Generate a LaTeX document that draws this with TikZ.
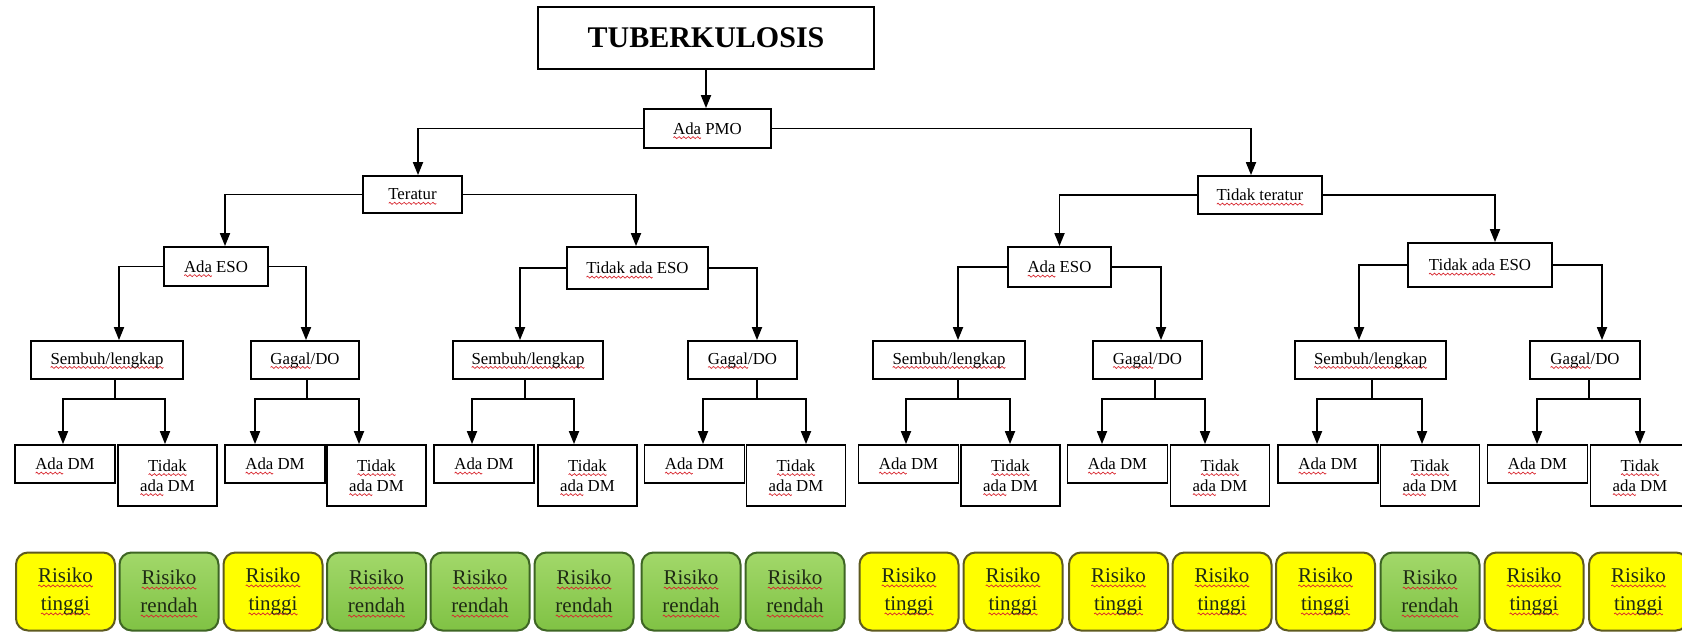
\documentclass[tikz,border=0pt]{standalone}
\usepackage{fontspec}
\setmainfont{Liberation Serif}
\usetikzlibrary{calc,arrows.meta}
\definecolor{spell}{HTML}{D8262E}
\definecolor{riskY}{HTML}{FFFF00}
\definecolor{riskYd}{HTML}{5E5A20}
\definecolor{riskG1}{HTML}{A2D86A}
\definecolor{riskG2}{HTML}{80C244}
\definecolor{riskGd}{HTML}{3E6524}
\definecolor{riskT}{HTML}{1E2A14}
% one period of the red wavy underline a spell checker draws
\newsavebox\wavebox
\newsavebox\wordbox
\sbox\wavebox{\begin{pgfpicture}
  \pgfpathrectanglecorners{\pgfpoint{0pt}{-0.6pt}}{\pgfpoint{2.2pt}{0.6pt}}%
  \pgfusepath{use as bounding box}%
  \pgfsetlinewidth{0.35pt}\pgfsetstrokecolor{spell}%
  \pgfpathmoveto{\pgfpoint{0pt}{0pt}}%
  \pgfpathsine{\pgfpoint{0.55pt}{0.5pt}}%
  \pgfpathcosine{\pgfpoint{0.55pt}{-0.5pt}}%
  \pgfpathsine{\pgfpoint{0.55pt}{-0.5pt}}%
  \pgfpathcosine{\pgfpoint{0.55pt}{0.5pt}}%
  \pgfusepath{stroke}%
\end{pgfpicture}}
% red wavy underline below a word
\newcommand\sq[1]{\sbox\wordbox{#1}%
  \rlap{\raisebox{-2.3pt}[0pt][0pt]{\hbox to\wd\wordbox{\xleaders\copy\wavebox\hfil}}}\usebox\wordbox}
% one parent splitting into two children below it
\newcommand\fork[6]{%
  \draw[ln] ($(#1.south)+(#2,0)$) -- ++(0,19) coordinate (#1j);
  \draw[arr] (#1j) -| ($(#3.north)+(#4,0)$);
  \draw[arr] (#1j) -| ($(#5.north)+(#6,0)$);
}
\begin{document}
\begin{tikzpicture}[x=0.5pt,y=-0.5pt,
  wh/.style 2 args={minimum width=#1*0.5pt, minimum height=#2*0.5pt},
  box/.style={draw, line width=0.9pt, inner sep=0pt, align=center,
    font=\fontsize{8.4}{10}\selectfont},
  ln/.style={line width=0.9pt},
  arr/.style={line width=0.9pt, -{Triangle[length=6.5pt,width=5pt]}},
  risk/.style={draw, line width=1pt, rounded corners=6pt, wh={99}{78},
    inner sep=0pt, align=center, text=riskT, font=\fontsize{10.5}{14}\selectfont},
  hi/.style={risk, fill=riskY, draw=riskYd},
  lo/.style={risk, top color=riskG1, bottom color=riskG2, draw=riskGd},
  adm/.style={box, wh={100}{38}},
  tdm/.style={box, wh={99}{61}},
  lv/.style={box, wh={#1}{38}},
]
\fill[white] (0,0) rectangle (1682,632);
\useasboundingbox (0,0) rectangle (1682,632);

% decision tree
\node[box, wh={336}{62}, font=\bfseries\fontsize{15}{18}\selectfont] (tb) at (706,38) {TUBERKULOSIS};
\node[box, wh={127}{39}] (pmo) at (707.5,128.5) {\sq{Ada} PMO};
\node[box, wh={99}{37}] (ter) at (412.5,194.5) {\sq{Teratur}};
\node[box, wh={124}{38}] (tter) at (1260,195) {\sq{Tidak teratur}};
\node[box, wh={104}{39}] (eso1) at (216,266.5) {\sq{Ada} ESO};
\node[box, wh={141}{42}] (teso1) at (637.5,268) {\sq{Tidak ada} ESO};
\node[box, wh={103}{40}] (eso2) at (1059.5,267) {\sq{Ada} ESO};
\node[box, wh={144}{44}] (teso2) at (1480,265) {\sq{Tidak ada} ESO};

\node[lv=152] (sl1) at (107,360) {\sq{Sembuh/lengkap}};
\node[lv=108] (gd1) at (305,360) {\sq{Gagal}/DO};
\node[lv=150] (sl2) at (528,360) {\sq{Sembuh/lengkap}};
\node[lv=109] (gd2) at (742.5,360) {\sq{Gagal}/DO};
\node[lv=152] (sl3) at (949,360) {\sq{Sembuh/lengkap}};
\node[lv=109] (gd3) at (1147.5,360) {\sq{Gagal}/DO};
\node[lv=151] (sl4) at (1370.5,360) {\sq{Sembuh/lengkap}};
\node[lv=110] (gd4) at (1585,360) {\sq{Gagal}/DO};

\node[adm] (ad1) at (65,464) {\sq{Ada} DM};
\node[tdm] (t1) at (167.5,475.5) {\sq{Tidak}\\\sq{ada} DM};
\node[adm] (ad2) at (275,464) {\sq{Ada} DM};
\node[tdm] (t2) at (376.5,475.5) {\sq{Tidak}\\\sq{ada} DM};
\node[adm] (ad3) at (484,464) {\sq{Ada} DM};
\node[tdm] (t3) at (587.5,475.5) {\sq{Tidak}\\\sq{ada} DM};
\node[adm] (ad4) at (694.5,464) {\sq{Ada} DM};
\node[tdm] (t4) at (796,475.5) {\sq{Tidak}\\\sq{ada} DM};
\node[adm] (ad5) at (908.5,464) {\sq{Ada} DM};
\node[tdm] (t5) at (1010.5,475.5) {\sq{Tidak}\\\sq{ada} DM};
\node[adm] (ad6) at (1117.5,464) {\sq{Ada} DM};
\node[tdm] (t6) at (1220,475.5) {\sq{Tidak}\\\sq{ada} DM};
\node[adm] (ad7) at (1328,464) {\sq{Ada} DM};
\node[tdm] (t7) at (1430,475.5) {\sq{Tidak}\\\sq{ada} DM};
\node[adm] (ad8) at (1537.5,464) {\sq{Ada} DM};
\node[tdm] (t8) at (1640,475.5) {\sq{Tidak}\\\sq{ada} DM};

% connectors
\draw[arr] (tb.south) -- (tb.south |- pmo.north);
\draw[arr] (pmo.west) -| ($(ter.north)+(5.5,0)$);
\draw[arr] (pmo.east) -| ($(tter.north)+(-9,0)$);
\draw[arr] (ter.west) -| ($(eso1.north)+(9,0)$);
\draw[arr] (ter.east) -| ($(teso1.north)+(-1.5,0)$);
\draw[arr] (tter.west) -| (eso2.north);
\draw[arr] (tter.east) -| ($(teso2.north)+(15,0)$);
\draw[arr] (eso1.west) -| ($(sl1.north)+(12,0)$);
\draw[arr] (eso1.east) -| ($(gd1.north)+(1,0)$);
\draw[arr] (teso1.west) -| ($(sl2.north)+(-8,0)$);
\draw[arr] (teso1.east) -| ($(gd2.north)+(14.5,0)$);
\draw[arr] (eso2.west) -| ($(sl3.north)+(9,0)$);
\draw[arr] (eso2.east) -| ($(gd3.north)+(13.5,0)$);
\draw[arr] (teso2.west) -| ($(sl4.north)+(-11.5,0)$);
\draw[arr] (teso2.east) -| ($(gd4.north)+(17,0)$);

\fork{sl1}{8}{ad1}{-2}{t1}{-2.5}
\fork{gd1}{2}{ad2}{-20}{t2}{-17.5}
\fork{sl2}{-3}{ad3}{-12}{t3}{-13.5}
\fork{gd2}{14.5}{ad4}{8.5}{t4}{10}
\fork{sl3}{9}{ad5}{-2.5}{t5}{-0.5}
\fork{gd3}{7.5}{ad6}{-15.5}{t6}{-15}
\fork{sl4}{1.5}{ad7}{-11}{t7}{-8}
\fork{gd4}{4}{ad8}{-0.5}{t8}{0}

% risk outcome per leaf
\node[hi] (r1) at (65.5,591.5) {\sq{Risiko}\\\sq{tinggi}};
\node[lo] (r2) at (169,591.5) {\sq{Risiko}\\\sq{rendah}};
\node[hi] (r3) at (273,591.5) {\sq{Risiko}\\\sq{tinggi}};
\node[lo] (r4) at (376.5,591.5) {\sq{Risiko}\\\sq{rendah}};
\node[lo] (r5) at (480,591.5) {\sq{Risiko}\\\sq{rendah}};
\node[lo] (r6) at (584,591.5) {\sq{Risiko}\\\sq{rendah}};
\node[lo] (r7) at (691,591.5) {\sq{Risiko}\\\sq{rendah}};
\node[lo] (r8) at (795,591.5) {\sq{Risiko}\\\sq{rendah}};
\node[hi] (r9) at (909,591.5) {\sq{Risiko}\\\sq{tinggi}};
\node[hi] (r10) at (1013,591.5) {\sq{Risiko}\\\sq{tinggi}};
\node[hi] (r11) at (1118.5,591.5) {\sq{Risiko}\\\sq{tinggi}};
\node[hi] (r12) at (1222,591.5) {\sq{Risiko}\\\sq{tinggi}};
\node[hi] (r13) at (1325.5,591.5) {\sq{Risiko}\\\sq{tinggi}};
\node[lo] (r14) at (1430,591.5) {\sq{Risiko}\\\sq{rendah}};
\node[hi] (r15) at (1534,591.5) {\sq{Risiko}\\\sq{tinggi}};
\node[hi] (r16) at (1638.5,591.5) {\sq{Risiko}\\\sq{tinggi}};
\end{tikzpicture}
\end{document}
